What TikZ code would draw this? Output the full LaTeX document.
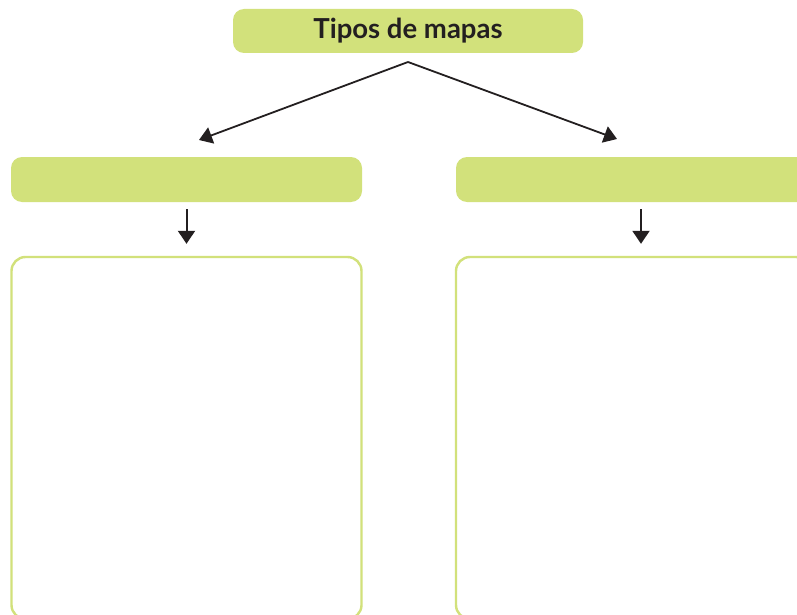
\documentclass[tikz,border=0pt]{standalone}
\usepackage{fontspec}
\setmainfont{Lato}
\usetikzlibrary{arrows.meta}
\definecolor{lime}{RGB}{210,225,123}
\definecolor{ink}{RGB}{35,31,32}
\begin{document}
\begin{tikzpicture}[x=1pt,y=-1pt,
  headbox/.style={fill=lime,draw=none,rounded corners=11pt,inner sep=0pt,anchor=center},
  listbox/.style={draw=lime,line width=2.4pt,fill=none,rounded corners=14pt,inner sep=0pt,anchor=center},
  conn/.style={draw=ink,line width=2pt,-{Triangle[length=13pt,width=17pt]}}]
\useasboundingbox (0,0) rectangle (797,615);
\clip (0,0) rectangle (797,615);
\fill[white] (0,0) rectangle (797,615);
\node[headbox,minimum width=350pt,minimum height=44pt,font=\bfseries\fontsize{27.5}{32}\selectfont,text=ink] (title) at (408,31) {Tipos de mapas};
\node[headbox,minimum width=351pt,minimum height=45pt] (left) at (186.5,179.5) {};
\node[headbox,minimum width=354pt,minimum height=45pt] (right) at (633,179.5) {};
\node[listbox,minimum width=350pt,minimum height=362pt] (leftlist) at (186.5,438) {};
\node[listbox,minimum width=354pt,minimum height=362pt] (rightlist) at (633,438) {};
\coordinate (apex) at (408,62);
\coordinate (tipL) at (199,140);
\coordinate (tipR) at (617,139);
\coordinate (downR) at (641,202);
\draw[conn,line width=1.8pt] (apex) -- (tipL);
\draw[conn,line width=1.8pt] (apex) -- (tipR);
\draw[conn,shorten <=7pt,shorten >=12pt] (left.south) -- (leftlist.north -| left.south);
\draw[conn,shorten <=7pt,shorten >=12pt] (downR) -- (downR |- rightlist.north);
\end{tikzpicture}
\end{document}
